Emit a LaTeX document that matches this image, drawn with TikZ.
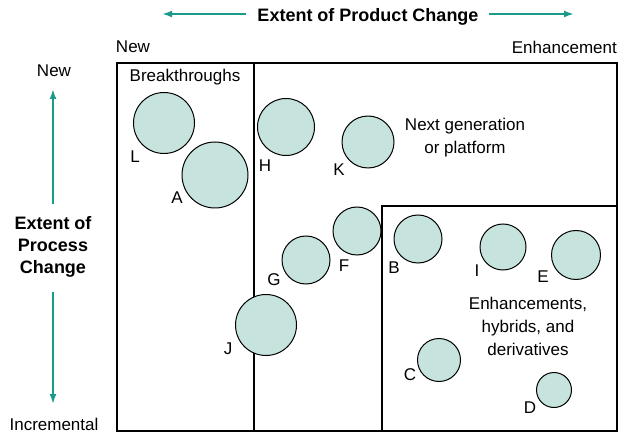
\documentclass[tikz,border=0pt]{standalone}
\usepackage{fontspec}
\setmainfont{Liberation Sans}
\usetikzlibrary{arrows.meta}
\definecolor{axisteal}{HTML}{1A9A88}
\definecolor{blobfill}{HTML}{C6E4DD}
\begin{document}
\begin{tikzpicture}[x=1pt, y=-1pt,
  every node/.style={font=\fontsize{17}{23}\selectfont, inner sep=0pt},
  blob/.style={circle, draw, line width=1pt, fill=blobfill, minimum size=#1pt},
  axis/.style={axisteal, line width=2.2pt, -{Latex[length=10pt,width=7pt]}},
  heading/.style={font=\fontsize{18}{22}\bfseries\selectfont, align=center}]
\useasboundingbox (0,0) rectangle (620,435);
% frames
\draw[line width=1.3pt] (117,63) rectangle (617,431);
\draw[line width=1.3pt] (254,63) -- (254,431);
\draw[line width=1.3pt] (382,206) rectangle (617,431);
% axes
\node[heading] (prod) at (368,17) {Extent of Product Change};
\coordinate (prodL) at (162,14);
\coordinate (prodR) at (574,14);
\draw[axis] (246,14) -- (prodL);
\draw[axis] (489,14) -- (prodR);
\node (newx) at (133,47) {New};
\node[anchor=east] (enh) at (617,47) {Enhancement};
\node[heading] (proc) at (53,247) {Extent of\\Process\\Change};
\coordinate (procT) at (53,89);
\coordinate (procB) at (53,404);
\draw[axis] (53,204) -- (procT);
\draw[axis] (53,292) -- (procB);
\node (newy) at (54,71) {New};
\node (incr) at (54,424) {Incremental};
% regions
\node (brk) at (185,77) {Breakthroughs};
\node[align=center] (nxt) at (465,138) {Next generation\\or platform};
\node[align=center] (enhd) at (528,326) {Enhancements,\\hybrids, and\\derivatives};
% projects
\foreach \name/\x/\y/\d in {L/164/123/61, A/215/175/66, H/286/127/57, K/368/142/52,
    F/357/231/48, G/306/260/48, B/418/239/48, I/503/247/46, E/576/255/49,
    J/266/325/61, C/439/360/43, D/554/390/35}
  \node[blob=\d] (\name) at (\x,\y) {};
\foreach \name/\x/\y in {L/135/157, A/177/198, H/265/166, K/339/170, F/344/266,
    G/274/280, B/394/268, I/477/271, E/543/277, J/228/349, C/410/375, D/530/408}
  \node (\name-lbl) at (\x,\y) {\name};
\end{tikzpicture}
\end{document}
